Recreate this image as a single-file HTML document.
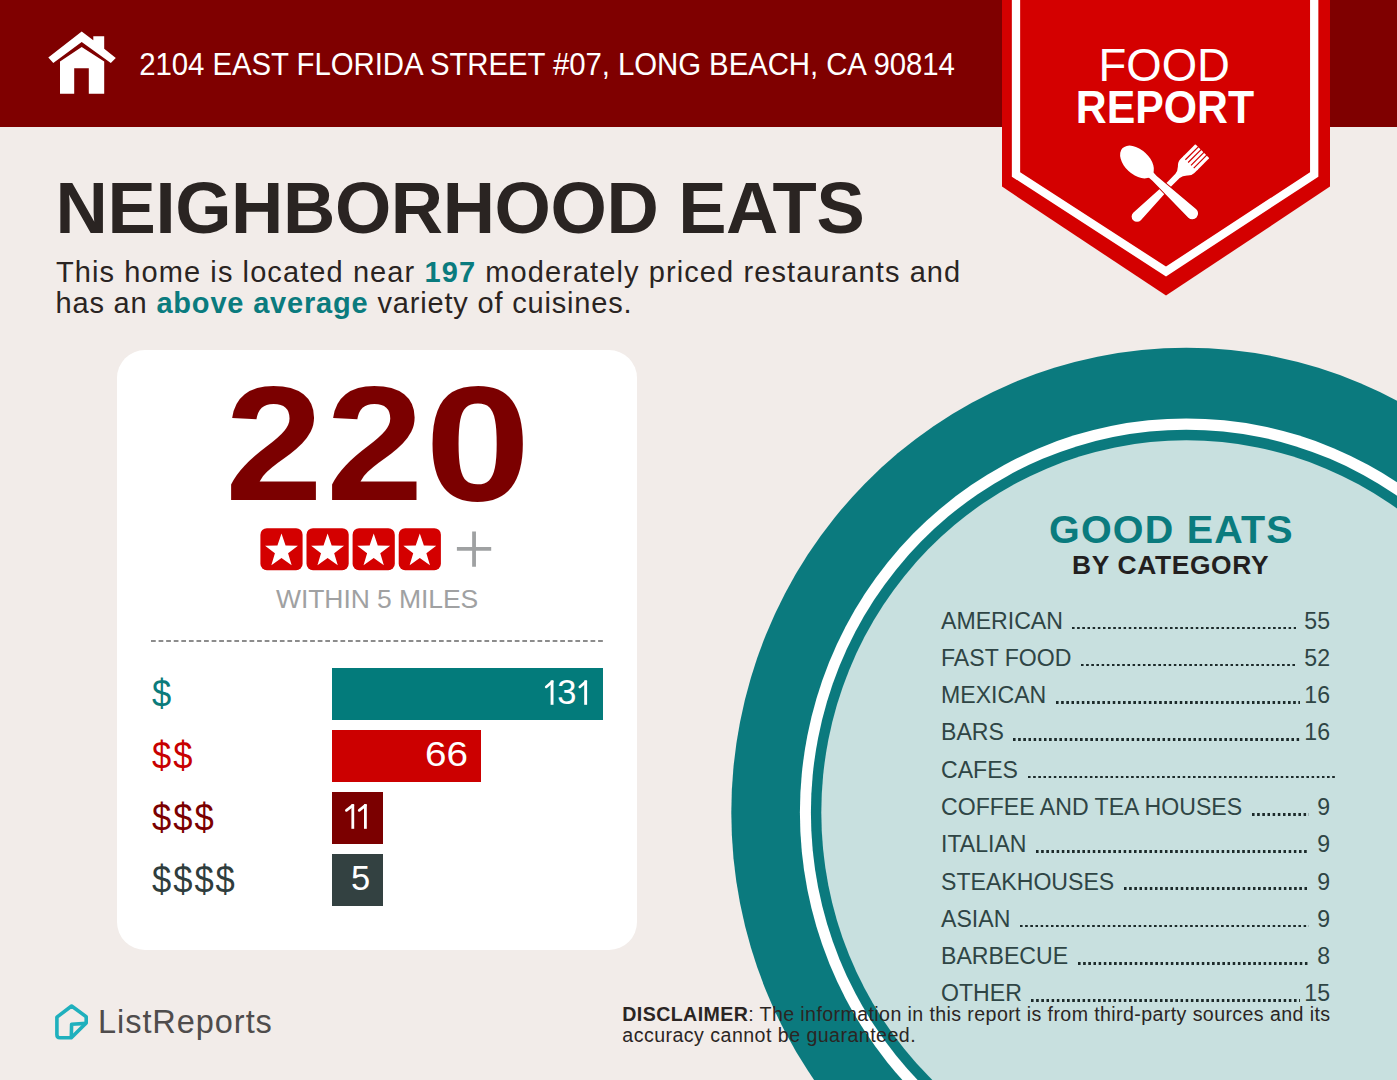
<!DOCTYPE html>
<html>
<head>
<meta charset="utf-8">
<style>
html,body{margin:0;padding:0;}
body{width:1397px;height:1080px;position:relative;overflow:hidden;background:#f2ece9;font-family:"Liberation Sans",sans-serif;}
.a{position:absolute;white-space:nowrap;line-height:1;}
#hdr{position:absolute;left:0;top:0;width:1397px;height:127px;background:#7f0000;}
#card{position:absolute;left:117px;top:350px;width:520px;height:600px;background:#fff;border-radius:28px;}
.bar{position:absolute;left:332px;height:52.3px;}
.bn{position:absolute;color:#fff;font-size:34.5px;line-height:1;white-space:nowrap;}
.row{position:absolute;left:941px;width:389px;height:23.1px;display:flex;align-items:flex-end;font-size:23.1px;line-height:1;color:#2f4545;white-space:nowrap;}
.row .dt{flex:1;height:2.6px;margin:0 8px 3.55px 9.5px;background-image:linear-gradient(to right,#1c2a2a 2.6px,transparent 2.6px);background-size:5.16px 2.6px;background-repeat:repeat-x;}
</style>
</head>
<body>
<div id="hdr"></div>

<!-- house icon -->
<svg style="position:absolute;left:0;top:0" width="140" height="127" viewBox="0 0 140 127">
  <path fill="#fff" d="M81.7 31.5 L48.3 57.5 L53.3 63 L81.7 42 L110.8 63 L115.8 57.9 L104.2 48.8 L104.2 36.3 L93.3 36.3 L93.3 40.3 Z"/>
  <path fill="#fff" d="M60 61.5 L81.7 47 L104.2 61.5 L104.2 93.8 L88.8 93.8 L88.8 68.3 L74.2 68.3 L74.2 93.8 L60 93.8 Z"/>
</svg>
<div class="a" id="addr" style="left:139.3px;top:48px;font-size:29.4px;color:#fff;letter-spacing:-0.07px;transform:scaleY(1.07);transform-origin:0 0;">2104 EAST FLORIDA STREET #07, LONG BEACH, CA 90814</div>

<!-- badge -->
<svg style="position:absolute;left:0;top:0" width="1397" height="300" viewBox="0 0 1397 300">
  <path fill="#d40000" d="M1002 0 L1002 186.6 L1166 295.6 L1330 186.6 L1330 0 Z"/>
  <path fill="none" stroke="#fff" stroke-width="8.3" d="M1016 0 L1016 174.4 L1166 271.5 L1314.2 174.4 L1314.2 0"/>
</svg>
<div class="a" id="food" style="left:1098.5px;top:42.7px;font-size:45.5px;color:#fff;">FOOD</div>
<div class="a" id="report" style="left:1075.8px;top:83.9px;font-size:42.8px;color:#fff;font-weight:bold;transform:scaleY(1.07);transform-origin:0 0;">REPORT</div>

<!-- utensils -->
<svg style="position:absolute;left:1100px;top:130px" width="130" height="110" viewBox="1100 130 130 110">
  <g fill="#fff">
    <g transform="translate(1202.3 151.2) rotate(135)">
      <path d="M0.5 -9.8 L17 -9.8 L17 9.8 L0.5 9.8 Q0 9.8 0 9 L0 -9 Q0 -9.8 0.5 -9.8 Z"/>
      <path d="M16 -9.8 L21 -9.8 Q25 -9.8 28 -6.5 Q31.5 -3.3 35 -3 L46 -2.9 L92.3 -5.4 A5.4 5.4 0 0 1 92.3 5.4 L46 2.9 L35 3 Q31.5 3.3 28 6.5 Q25 9.8 21 9.8 L16 9.8 Z"/>
    </g>
  </g>
  <g stroke="#d40000" stroke-width="1.25" fill="none">
    <g transform="translate(1202.3 151.2) rotate(135)">
      <path d="M-1 -5.9 L18 -5.9 M-1 -2 L18 -2 M-1 2 L18 2 M-1 5.9 L18 5.9"/>
    </g>
  </g>
  <g fill="#fff" stroke="#c80000" stroke-width="2" paint-order="stroke">
    <g transform="translate(1137 162) rotate(43)">
      <path d="M14 -5 Q19 -3.1 24 -3.1 L75.6 -5.8 A5.8 5.8 0 0 1 75.6 5.8 L24 3.1 Q19 3.1 14 5 Z"/>
      <ellipse cx="0" cy="0" rx="20" ry="12.4" stroke="none"/>
    </g>
  </g>
</svg>

<!-- title -->
<div class="a" id="title" style="left:55.6px;top:172.2px;font-size:72.4px;letter-spacing:-0.375px;font-weight:bold;color:#2a2422;">NEIGHBORHOOD EATS</div>
<div class="a" id="sub1" style="left:56px;top:257.5px;font-size:29px;letter-spacing:1.09px;color:#2a2422;">This home is located near <b style="color:#0a7b7e">197</b> moderately priced restaurants and</div>
<div class="a" id="sub2" style="left:55.5px;top:288.9px;font-size:29px;letter-spacing:0.82px;color:#2a2422;">has an <b style="color:#0a7b7e">above average</b> variety of cuisines.</div>

<!-- card -->
<div id="card"></div>
<div id="n220" style="position:absolute;left:0;top:0;">
<div class="a" style="left:225px;top:363px;font-size:162.4px;font-weight:bold;color:#7b0000;transform:scaleX(1.085);transform-origin:0 0;">2</div>
<div class="a" style="left:326px;top:363px;font-size:162.4px;font-weight:bold;color:#7b0000;transform:scaleX(1.08);transform-origin:0 0;">2</div>
<div class="a" style="left:424.5px;top:363px;font-size:162.4px;font-weight:bold;color:#7b0000;transform:scaleX(1.17);transform-origin:0 0;">0</div>
</div>
<svg style="position:absolute;left:255px;top:520px" width="250" height="60" viewBox="255 520 250 60">
  <defs>
    <g id="st"><rect x="0" y="0" width="42.2" height="42" rx="6.5" fill="#d40000"/>
    <path fill="#fff" d="M21.10 5.40 L25.17 17.22 L37.55 17.47 L27.68 25.03 L31.27 37.01 L21.10 29.86 L10.93 37.01 L14.52 25.03 L4.65 17.47 L17.03 17.22 Z"/></g>
  </defs>
  <use href="#st" x="260.4" y="528.2"/>
  <use href="#st" x="306.5" y="528.2"/>
  <use href="#st" x="352.6" y="528.2"/>
  <use href="#st" x="398.7" y="528.2"/>
  <path stroke="#9fa1a2" stroke-width="3.8" d="M456.9 548.8 L491.2 548.8 M474.05 531.5 L474.05 566.7"/>
</svg>
<div class="a" id="within" style="left:276px;letter-spacing:-0.07px;top:585.6px;font-size:26.5px;color:#a0a1a2;">WITHIN 5 MILES</div>
<div style="position:absolute;left:150.7px;top:640px;width:452.3px;height:2.2px;background-image:linear-gradient(to right,#8c8c8c 4.8px,transparent 4.8px);background-size:7.587px 2.2px;"></div>

<div class="a" id="d1" style="left:151.5px;top:674.5px;font-size:38.4px;color:#0b7b7b;letter-spacing:2.2px;transform:scaleX(0.9);transform-origin:0 0;">$</div>
<div class="a" id="d2" style="left:151.5px;top:736.5px;font-size:38.4px;color:#c80000;letter-spacing:2.2px;transform:scaleX(0.9);transform-origin:0 0;">$$</div>
<div class="a" id="d3" style="left:151.5px;top:798.5px;font-size:38.4px;color:#7b0000;letter-spacing:2.2px;transform:scaleX(0.9);transform-origin:0 0;">$$$</div>
<div class="a" id="d4" style="left:151.5px;top:860.5px;font-size:38.4px;color:#2f3d3d;letter-spacing:2.2px;transform:scaleX(0.9);transform-origin:0 0;">$$$$</div>

<div class="bar" style="top:668px;width:271px;background:#037b7b;"></div>
<div class="bar" style="top:730px;width:149px;background:#cc0000;"></div>
<div class="bar" style="top:791.8px;width:50.6px;background:#7b0000;"></div>
<div class="bar" style="top:853.8px;width:50.6px;background:#334141;"></div>
<div class="bn" id="b1" style="left:557.3px;top:675.4px;">3</div>
<svg id="ones" style="position:absolute;left:0;top:0" width="600" height="840" viewBox="0 0 600 840">
  <g fill="#fff" stroke="#fff">
    <rect x="550.6" y="680.4" width="2.9" height="24.4" stroke="none"/>
    <path d="M546.2 686.9 L552.2 681.7" stroke-width="2.7" fill="none" stroke-linecap="round"/>
    <rect x="584.2" y="680.4" width="2.9" height="24.4" stroke="none"/>
    <path d="M579.8 686.9 L585.8 681.7" stroke-width="2.7" fill="none" stroke-linecap="round"/>
    <rect x="351.4" y="804.2" width="2.8" height="24.6" stroke="none"/>
    <path d="M346.4 810.4 L352.8 805.4" stroke-width="2.7" fill="none" stroke-linecap="round"/>
    <rect x="364" y="804.2" width="2.8" height="24.6" stroke="none"/>
    <path d="M359.2 810.4 L365.4 805.4" stroke-width="2.7" fill="none" stroke-linecap="round"/>
  </g>
</svg>
<div class="bn" id="b2" style="left:424.9px;top:737.3px;transform:scaleX(1.12);transform-origin:0 0;">66</div>

<div class="bn" id="b4" style="left:351px;top:861px;">5</div>

<!-- circle -->
<svg style="position:absolute;left:0;top:0" width="1397" height="1080" viewBox="0 0 1397 1080">
  <ellipse cx="1186.3" cy="812.6" rx="455" ry="464.8" fill="#0b7a7e"/>
  <ellipse cx="1186.3" cy="812.6" rx="386.4" ry="394.2" fill="#fff"/>
  <ellipse cx="1186.3" cy="812.6" rx="375.4" ry="382.9" fill="#0b7a7e"/>
  <ellipse cx="1186.3" cy="812.6" rx="365" ry="372.3" fill="#c8e0df"/>
</svg>

<div class="a" id="good" style="left:1049px;letter-spacing:1.2px;top:510.3px;font-size:39.5px;font-weight:bold;color:#0a7b7e;">GOOD EATS</div>
<div class="a" id="byc" style="left:1072px;top:552.2px;font-size:26.4px;letter-spacing:0.65px;font-weight:bold;color:#231f1f;">BY CATEGORY</div>

<div id="list">
<div class="row" style="top:609.65px;"><span class="nm">AMERICAN</span><span class="dt"></span><span class="vl">55</span></div>
<div class="row" style="top:646.92px;"><span class="nm">FAST FOOD</span><span class="dt"></span><span class="vl">52</span></div>
<div class="row" style="top:684.19px;"><span class="nm">MEXICAN</span><span class="dt" style="margin-right:4.6px"></span><span class="vl">16</span></div>
<div class="row" style="top:721.46px;"><span class="nm">BARS</span><span class="dt" style="margin-right:4.6px"></span><span class="vl">16</span></div>
<div class="row" style="top:758.73px;width:395.5px;"><span class="nm">CAFES</span><span class="dt" style="margin-right:0"></span></div>
<div class="row" style="top:796.00px;"><span class="nm">COFFEE AND TEA HOUSES</span><span class="dt"></span><span class="vl">9</span></div>
<div class="row" style="top:833.27px;"><span class="nm">ITALIAN</span><span class="dt"></span><span class="vl">9</span></div>
<div class="row" style="top:870.54px;"><span class="nm">STEAKHOUSES</span><span class="dt"></span><span class="vl">9</span></div>
<div class="row" style="top:907.81px;"><span class="nm">ASIAN</span><span class="dt"></span><span class="vl">9</span></div>
<div class="row" style="top:945.08px;"><span class="nm">BARBECUE</span><span class="dt"></span><span class="vl">8</span></div>
<div class="row" style="top:982.35px;"><span class="nm">OTHER</span><span class="dt" style="margin-right:4.6px"></span><span class="vl">15</span></div>
</div>

<!-- disclaimer -->
<div class="a" id="disc1" style="left:622.3px;top:1005.1px;font-size:19.6px;color:#2b2523;letter-spacing:0.4px;"><b>DISCLAIMER</b>: The information in this report is from third-party sources and its</div>
<div class="a" id="disc2" style="left:622.3px;top:1026.1px;font-size:19.6px;color:#2b2523;letter-spacing:0.46px;">accuracy cannot be guaranteed.</div>

<!-- logo -->
<svg style="position:absolute;left:50px;top:1000px" width="45" height="45" viewBox="50 1000 45 45">
  <path fill="none" stroke="#1fb0bd" stroke-width="3.6" stroke-linejoin="round" d="M71.6 1006 L56.9 1017.1 L56.9 1034.8 Q56.9 1037.8 59.9 1037.8 L71.3 1037.8 L86.2 1022.9 L86.2 1016.7 Z"/>
  <path fill="none" stroke="#1fb0bd" stroke-width="3.6" stroke-linejoin="round" d="M71.3 1037.8 L71.6 1024.2 L86.2 1023.4"/>
</svg>
<div class="a" id="lr" style="left:98px;top:1006.2px;font-size:32.5px;letter-spacing:0.95px;color:#4f4c4c;">ListReports</div>
</body>
</html>
